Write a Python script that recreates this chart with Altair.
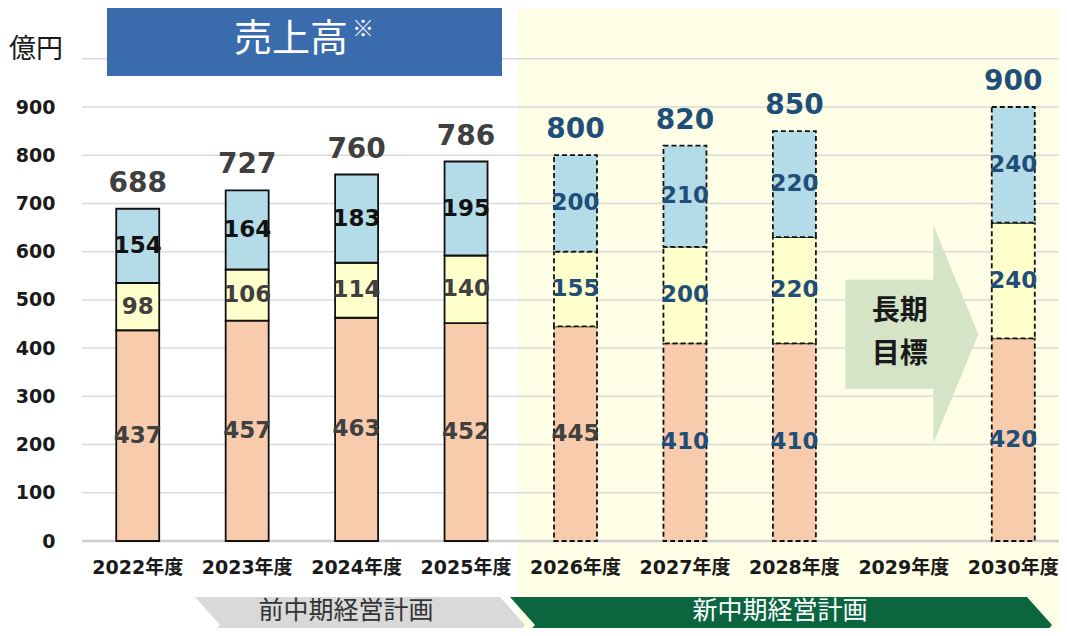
import altair as alt
import pandas as pd

# ---------------- data ----------------
years = ["2022年度", "2023年度", "2024年度", "2025年度", "2026年度",
         "2027年度", "2028年度", "2029年度", "2030年度"]
bottom_vals = [437, 457, 463, 452, 445, 410, 410, None, 420]
middle_vals = [98, 106, 114, 140, 155, 200, 220, None, 240]
top_vals = [154, 164, 183, 195, 200, 210, 220, None, 240]
totals = [688, 727, 760, 786, 800, 820, 850, None, 900]
periods = ["実績", "実績", "実績", "実績", "計画", "計画", "計画", "計画", "計画"]
y_ticks = [0, 100, 200, 300, 400, 500, 600, 700, 800, 900]
grid_values = [100, 200, 300, 400, 500, 600, 700, 800, 900, 1000]
segments = ["bottom", "middle", "top"]
seg_colors = ["#f8cbad", "#ffffcc", "#b4dbe8"]
plan_labels = ["前中期経営計画", "新中期経営計画"]
title_text = "売上高"
unit_text = "億円"
goal_lines = ["長期", "目標"]

GRAY_TXT = "#404040"
BLUE_TXT = "#1f4e79"

rows = []
for i, yr in enumerate(years):
    if bottom_vals[i] is None:
        continue
    start = 0
    for seg, vals in zip(segments, [bottom_vals, middle_vals, top_vals]):
        v = vals[i]
        if periods[i] == "計画":
            lc = GRAY_TXT if (seg == "bottom" and yr == "2026年度") else BLUE_TXT
        else:
            lc = "#111111" if seg == "top" else GRAY_TXT
        rows.append(dict(year=yr, seg=seg, start=start, end=start + v,
                         mid=start + v / 2, value=v, period=periods[i], lcolor=lc))
        start += v
seg_df = pd.DataFrame(rows)

tot_df = pd.DataFrame({"year": years, "total": totals, "period": periods})
tot_df = tot_df.dropna()
tot_df["tcolor"] = [BLUE_TXT if p == "計画" else GRAY_TXT for p in tot_df["period"]]

one = pd.DataFrame({"a": [0]})
grid_df = pd.DataFrame({"v": grid_values})
zero_df = pd.DataFrame({"v": [0]})

# ---------------- scales / axes ----------------
xscale = alt.Scale(domain=years, range=[0, 985], paddingInner=0, paddingOuter=0)
xaxis = alt.Axis(title=None, domain=False, ticks=False, tickSize=0, labelAngle=0,
                 labelPadding=17, labelFontSize=19, labelFontWeight="bold",
                 labelFont="DejaVu Sans, Noto Sans CJK JP", labelColor="#1a1a1a",
                 labelOverlap=False, labelLimit=200, zindex=2)
yscale = alt.Scale(domain=[0, 900], nice=False, zero=True)
yaxis = alt.Axis(title=None, values=y_ticks, domain=False, ticks=False, tickSize=0,
                 grid=False, labelPadding=28, labelFontSize=19, labelFontWeight="bold",
                 labelFont="DejaVu Sans", labelColor="#1a1a1a", zindex=2)


def X():
    return alt.X("year:N", scale=xscale, axis=xaxis, sort=years)


def Y(field):
    return alt.Y(f"{field}:Q", scale=yscale, axis=yaxis)


# ---------------- layers ----------------
bg = alt.Chart(one).mark_rect(color="#fefee6").encode(
    x=alt.value(435), x2=alt.value(1000), y=alt.value(-99), y2=alt.value(530))

grid = alt.Chart(grid_df).mark_rule(color="#dadada", strokeWidth=1.5).encode(
    y=Y("v"), x=alt.value(-1), x2=alt.value(1000))
zero = alt.Chart(zero_df).mark_rule(color="#cfcfcf", strokeWidth=2.5).encode(
    y=Y("v"), x=alt.value(-1), x2=alt.value(1000))

color_enc = alt.Color("seg:N", scale=alt.Scale(domain=segments, range=seg_colors), legend=None)

bars_hist = alt.Chart(seg_df[seg_df["period"] == "実績"]).mark_bar(
    size=43, stroke="#111111", strokeWidth=1.8).encode(
    x=X(), y=Y("start"), y2="end", color=color_enc)

bars_plan = alt.Chart(seg_df[seg_df["period"] == "計画"]).mark_bar(
    size=43, stroke="#111111", strokeWidth=1.8, strokeDash=[5, 3]).encode(
    x=X(), y=Y("start"), y2="end", color=color_enc)

seg_text = alt.Chart(seg_df).mark_text(
    font="DejaVu Sans", fontSize=23, fontWeight="bold", baseline="middle").encode(
    x=X(), y=Y("mid"), text="value:Q", color=alt.Color("lcolor:N", scale=None))

tot_text = alt.Chart(tot_df).mark_text(
    font="DejaVu Sans", fontSize=28, fontWeight="bold", baseline="middle", dy=-25).encode(
    x=X(), y=Y("total"), text="total:Q", color=alt.Color("tcolor:N", scale=None))

# long-term goal arrow
arrow_path = "M -0.61 -0.5 L 0.197 -0.5 L 0.197 -1 L 0.61 0 L 0.197 1 L 0.197 0.5 L -0.61 0.5 Z"
arrow_df = pd.DataFrame({"year": ["2029年度"], "v": [429]})
arrow = alt.Chart(arrow_df).mark_point(
    shape=arrow_path, size=47524, filled=True, fill="#d5e4c7", opacity=1,
    strokeWidth=0, xOffset=8).encode(x=X(), y=Y("v"))

goal_df = pd.DataFrame({"year": ["2029年度", "2029年度"], "v": [475, 386], "t": goal_lines})
goal_text = alt.Chart(goal_df).mark_text(
    font="Noto Sans CJK JP", fontSize=28, fontWeight="bold", color="#1a1a1a",
    baseline="middle", dx=-4).encode(x=X(), y=Y("v"), text="t:N")

# title box
title_box = alt.Chart(one).mark_rect(color="#3a6bac").encode(
    x=alt.value(24), x2=alt.value(419), y=alt.value(-99), y2=alt.value(-31))
title_main = alt.Chart(one).mark_text(
    text=title_text, font="Noto Sans CJK JP", fontSize=38, color="white",
    align="center", baseline="middle").encode(x=alt.value(208), y=alt.value(-67))
title_mark = alt.Chart(one).mark_text(
    text="※", font="Noto Sans CJK JP", fontSize=22, color="white",
    align="center", baseline="middle").encode(x=alt.value(280), y=alt.value(-78))

unit = alt.Chart(one).mark_text(
    text=unit_text, font="Noto Sans CJK JP", fontSize=27, color="#1a1a1a",
    align="left", baseline="middle").encode(x=alt.value(-74), y=alt.value(-57))

# plan period chevrons
gray_path = "M -5.893 -1 L 5.0 -1 L 5.893 0 L 5.0 1 L -5.893 1 L -5.0 0 Z"
green_path = "M -9.679 -1 L 8.786 -1 L 9.679 0 L 8.786 1 L -9.679 1 L -8.786 0 Z"
chev_gray = alt.Chart(one).mark_point(
    shape=gray_path, size=3136, filled=True, fill="#d9d9d9", opacity=1, strokeWidth=0
).encode(x=alt.value(277), y=alt.value(518))
chev_green = alt.Chart(one).mark_point(
    shape=green_path, size=3136, filled=True, fill="#0b6640", opacity=1, strokeWidth=0
).encode(x=alt.value(698), y=alt.value(518))
chev_t1 = alt.Chart(one).mark_text(
    text=plan_labels[0], font="Noto Sans CJK JP", fontSize=25, color="#333333",
    align="center", baseline="middle").encode(x=alt.value(263), y=alt.value(504))
chev_t2 = alt.Chart(one).mark_text(
    text=plan_labels[1], font="Noto Sans CJK JP", fontSize=25, color="white",
    align="center", baseline="middle").encode(x=alt.value(697), y=alt.value(504))

chart = alt.layer(
    bg, grid, zero, bars_hist, bars_plan, seg_text, tot_text,
    arrow, goal_text, title_box, title_main, title_mark, unit,
    chev_gray, chev_green, chev_t1, chev_t2
).properties(
    width=976, height=434,
    padding={"left": 75, "top": 99, "right": 0, "bottom": 87},
    autosize=alt.AutoSizeParams(type="none"),
    background="white",
).configure_view(stroke=None)

chart.save("out.html", embed_options={"renderer": "svg", "actions": False})
